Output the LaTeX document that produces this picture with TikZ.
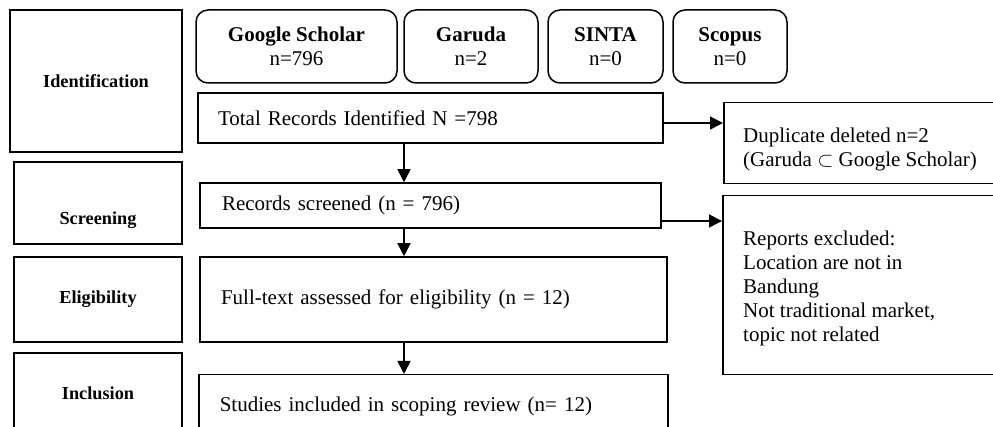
\documentclass[tikz,border=0pt]{standalone}
\usepackage{fontspec}
\setmainfont{Liberation Serif}
\usetikzlibrary{arrows.meta}
\begin{document}
\begin{tikzpicture}[x=1pt,y=-1pt,
  stage/.style={draw, line width=1.8pt, inner sep=0pt, font=\fontsize{18.3}{22}\selectfont\bfseries},
  stagetxt/.style={inner sep=0pt, font=\fontsize{18.3}{22}\selectfont\bfseries},
  src/.style={draw, line width=1.5pt, rounded corners=12pt, inner sep=0pt, align=center, minimum height=73pt, font=\fontsize{21}{24}\selectfont},
  stepbox/.style={draw, line width=1.5pt, inner ysep=0pt, align=left, font=\fontsize{21}{24}\selectfont},
  sidebox/.style={draw, line width=1.5pt, inner sep=0pt, minimum width=300pt, anchor=north west},
  txt/.style={inner sep=0pt, align=left, anchor=north west, font=\fontsize{21}{24}\selectfont},
  arr/.style={line width=1.5pt, -{Triangle[length=13pt,width=13pt]}}]
\useasboundingbox (0,0) rectangle (993,427);
\clip (0,0) rectangle (993,427);

% stage labels
\node[stage, minimum width=172pt, minimum height=142pt] (ident) at (96,81) {Identification};
\node[stage, minimum width=168pt, minimum height=82pt] (scrbox) at (98,203) {};
\node[stagetxt] (scrlbl) at (98,220) {Screening};
\node[stage, minimum width=168pt, minimum height=85pt] (eligbox) at (98,299.5) {Eligibility};
\node[stage, minimum width=168pt, minimum height=130pt] (inclbox) at (98,418) {};
\node[stagetxt] (incllbl) at (98,393) {Inclusion};

% sources
\node[src, minimum width=201pt] (gs) at (296.5,46.5) {\textbf{Google Scholar}\\n=796};
\node[src, minimum width=134pt] (garuda) at (471,46.5) {\textbf{Garuda}\\n=2};
\node[src, minimum width=115pt] (sinta) at (605.5,46.5) {\textbf{SINTA}\\n=0};
\node[src, minimum width=114pt] (scopus) at (730,46.5) {\textbf{Scopus}\\n=0};

% main flow
\node[stepbox, text width=425pt, inner xsep=20pt, minimum height=50pt] (total) at (430.5,118) {Total Records Identified N =798};
\node[stepbox, text width=417pt, inner xsep=22pt, minimum height=45pt] (screened) at (430.5,205.5) {Records screened (n = 796)};
\node[stepbox, text width=425pt, inner xsep=21pt, minimum height=85pt] (full) at (433.5,299.5) {Full-text assessed for eligibility (n = 12)};
\node[stepbox, text width=427pt, inner xsep=21pt, inner ysep=22pt, anchor=north west] (studies) at (198,374) {Studies included in scoping review (n= 12)};

% side boxes
\node[sidebox, minimum height=81pt] (dup) at (723,102) {};
\node[txt] (duptxt) at (743,127.5) {Duplicate deleted n=2\\(Garuda $\subset$ Google Scholar)};
\node[sidebox, minimum height=179pt] (rep) at (722,195) {};
\node[txt] (reptxt) at (743,230.7) {Reports excluded:\\Location are not in\\Bandung\\Not traditional market,\\topic not related};

% connectors
\coordinate (ax) at (404,0);
\coordinate (ay1) at (0,123);
\coordinate (ay2) at (0,221);
\draw[arr] (total.south -| ax) -- (screened.north -| ax);
\draw[arr] (screened.south -| ax) -- (full.north -| ax);
\draw[arr] (full.south -| ax) -- (studies.north -| ax);
\draw[arr] (total.east |- ay1) -- (dup.west |- ay1);
\draw[arr] (screened.east |- ay2) -- (rep.west |- ay2);
\end{tikzpicture}
\end{document}
